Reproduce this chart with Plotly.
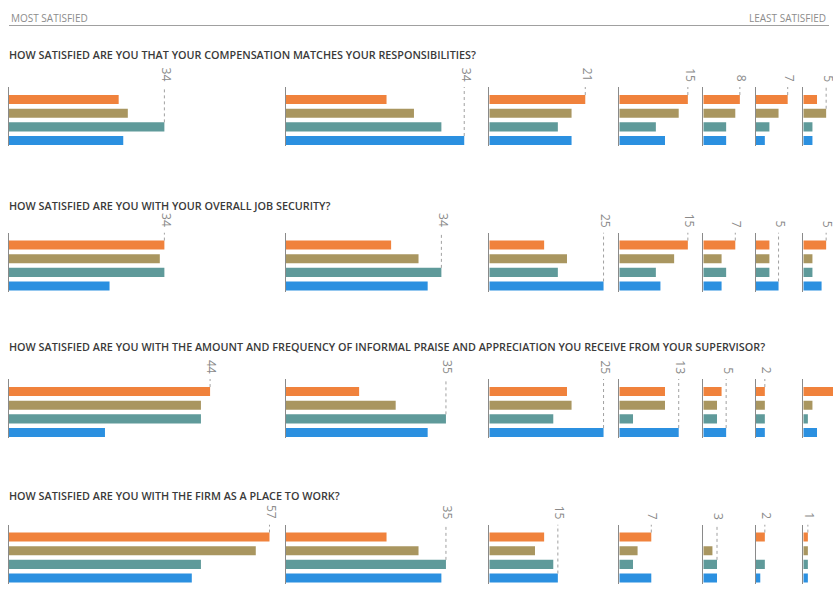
import plotly.graph_objects as go

# ---------------- data ----------------
levels = ["Most satisfied", "Level 2", "Level 3", "Level 4", "Level 5", "Level 6", "Least satisfied"]

questions = [
    "HOW SATISFIED ARE YOU THAT YOUR COMPENSATION MATCHES YOUR RESPONSIBILITIES?",
    "HOW SATISFIED ARE YOU WITH YOUR OVERALL JOB SECURITY?",
    "HOW SATISFIED ARE YOU WITH THE AMOUNT AND FREQUENCY OF INFORMAL PRAISE AND APPRECIATION YOU RECEIVE FROM YOUR SUPERVISOR?",
    "HOW SATISFIED ARE YOU WITH THE FIRM AS A PLACE TO WORK?",
]

# percent of respondents per satisfaction level (most -> least), one list per question
series_1 = [[24, 22, 21, 15, 8, 7, 3],
            [34, 23, 12, 15, 7, 3, 5],
            [44, 16, 17, 10, 4, 2, 7],
            [57, 22, 12, 7, 0, 2, 1]]
series_2 = [[26, 28, 18, 13, 7, 5, 5],
            [33, 29, 17, 12, 4, 3, 2],
            [42, 24, 18, 10, 3, 2, 2],
            [54, 29, 10, 4, 2, 0, 1]]
series_3 = [[34, 34, 15, 8, 5, 3, 2],
            [34, 34, 15, 8, 5, 3, 2],
            [42, 35, 14, 3, 3, 2, 1],
            [42, 35, 14, 3, 3, 2, 1]]
series_4 = [[25, 39, 18, 10, 5, 2, 2],
            [22, 31, 25, 9, 4, 5, 4],
            [21, 31, 25, 13, 5, 2, 3],
            [40, 34, 15, 7, 3, 1, 1]]

# max-value labels as printed
max_labels = [["34", "34", "21", "15", "8", "7", "5"],
              ["34", "34", "25", "15", "7", "5", "5"],
              ["44", "35", "25", "13", "5", "2", "7"],
              ["57", "35", "15", "7", "3", "2", "1"]]

# ---------------- style / layout ----------------
W, H = 833, 594
colors = ["#f0823c", "#a99660", "#5f9a9a", "#2b90e0"]
PX_PER_UNIT = 4.57
col_start_px = [9, 286, 489.3, 619.3, 703.3, 755.7, 803.3]
row_top_px = [87, 232.5, 379, 524.5]
row_h_px = 59
title_y_px = [55, 205, 347, 495]
Y_RANGE = [3.4, -0.92]
BAR_W = 0.66

fig = go.Figure()
layout = dict(
    width=W, height=H,
    margin=dict(l=0, r=0, t=0, b=0),
    paper_bgcolor="white", plot_bgcolor="rgba(0,0,0,0)",
    showlegend=False,
    annotations=[], shapes=[],
)

def px_x(p):
    return p / W

def px_y(p):
    return 1 - p / H

k = 0
for r in range(len(questions)):
    y_dom = [px_y(row_top_px[r] + row_h_px), px_y(row_top_px[r])]
    for c in range(len(levels)):
        k += 1
        sx = "" if k == 1 else str(k)
        start = col_start_px[c]
        end = col_start_px[c + 1] - 6 if c + 1 < len(col_start_px) else W
        x_max = (end - start) / PX_PER_UNIT
        vals = [series_1[r][c], series_2[r][c], series_3[r][c], series_4[r][c]]
        fig.add_trace(go.Bar(
            x=vals, y=[0, 1, 2, 3], orientation="h",
            marker=dict(color=colors, line=dict(width=0)),
            width=BAR_W, xaxis="x" + sx, yaxis="y" + sx,
            hoverinfo="x",
        ))
        m = max(vals)
        idx = vals.index(m)
        fig.add_trace(go.Scatter(
            x=[m, m], y=[idx - BAR_W / 2, Y_RANGE[1]],
            mode="lines", line=dict(color="#a0a0a0", width=1, dash="dot"),
            xaxis="x" + sx, yaxis="y" + sx, hoverinfo="skip",
        ))
        layout["xaxis" + sx] = dict(
            domain=[px_x(start), px_x(end)], range=[0, x_max],
            visible=False, fixedrange=True, anchor="y" + sx,
        )
        layout["yaxis" + sx] = dict(
            domain=y_dom, range=Y_RANGE, anchor="x" + sx,
            showline=True, linecolor="#8a8a8a", linewidth=1.3,
            showticklabels=False, showgrid=False, zeroline=False, ticks="",
            fixedrange=True,
        )
        layout["annotations"].append(dict(
            text=max_labels[r][c], xref="x" + sx, yref="y" + sx + " domain",
            x=m, y=1, xanchor="center", yanchor="bottom", yshift=3, xshift=2,
            textangle=90, showarrow=False,
            font=dict(family="Open Sans", size=12, color="#8a8a8a"),
        ))
    layout["annotations"].append(dict(
        text=questions[r], xref="paper", yref="paper",
        x=px_x(7), y=px_y(title_y_px[r]), xanchor="left", yanchor="middle",
        showarrow=False,
        font=dict(family="Open Sans", size=10.8, color="#3a3a3a", weight=600),
    ))

layout["annotations"].append(dict(
    text="MOST SATISFIED", xref="paper", yref="paper", x=px_x(9), y=px_y(18),
    xanchor="left", yanchor="middle", showarrow=False,
    font=dict(family="Open Sans", size=10, color="#8c8c8c"),
))
layout["annotations"].append(dict(
    text="LEAST SATISFIED", xref="paper", yref="paper", x=px_x(828), y=px_y(18),
    xanchor="right", yanchor="middle", showarrow=False,
    font=dict(family="Open Sans", size=10, color="#8c8c8c"),
))
layout["shapes"].append(dict(
    type="line", xref="paper", yref="paper",
    x0=px_x(9), x1=px_x(829), y0=px_y(25.5), y1=px_y(25.5),
    line=dict(color="#a0a0a0", width=1),
))

fig.update_layout(**layout)
fig.write_html("out.html", config={"displayModeBar": False},
               post_script="document.body.style.margin='0';")
